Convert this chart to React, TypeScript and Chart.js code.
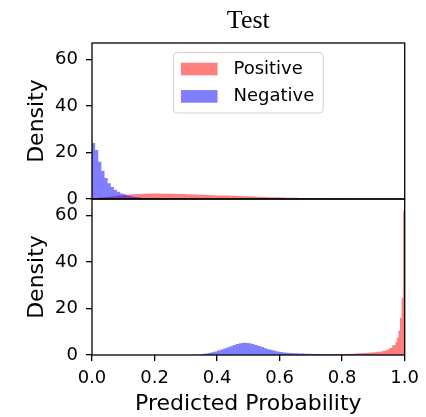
import React, { useEffect, useRef } from 'react';
import { Chart, registerables } from 'chart.js';

Chart.register(...registerables);

const chartTitle = 'Test';
const seriesNames = ['Positive', 'Negative'];
const xLabel = 'Predicted Probability';
const yLabel = 'Density';
const xTicks = [0, 0.2, 0.4, 0.6, 0.8, 1.0];
const yTicks = [0, 20, 40, 60];
const yMax = 67;

// ---- top subplot ----
const posTopStart = 0;
const posTopBin = 0.02;
const posTopValues = [
  0.35, 0.6, 0.9, 1.2, 1.5, 1.8, 2.0, 2.2, 2.3, 2.4,
  2.4, 2.3, 2.25, 2.2, 2.1, 2.0, 1.9, 1.8, 1.7, 1.6,
  1.5, 1.45, 1.35, 1.25, 1.15, 1.05, 0.95, 0.85, 0.78, 0.7,
  0.62, 0.55, 0.5, 0.45, 0.4, 0.35, 0.3, 0.27, 0.24, 0.21,
  0.18, 0.16, 0.14, 0.12, 0.1, 0.09, 0.08, 0.07, 0.06, 0.05,
];
const negTopStart = 0;
const negTopBin = 0.01;
const negTopValues = [
  24, 21, 16, 12, 9, 6.8, 5.2, 4, 3.1, 2.4,
  1.9, 1.5, 1.2, 0.95, 0.75, 0.6, 0.48, 0.38, 0.3, 0.24,
  0.19, 0.15, 0.12, 0.1, 0.08, 0.06, 0.05, 0.04, 0.03, 0.02,
];

// ---- bottom subplot ----
const posBotCoarseStart = 0.6;
const posBotCoarseBin = 0.01;
const posBotCoarseValues = [
  0.05, 0.06, 0.07, 0.08, 0.09, 0.1, 0.11, 0.12, 0.13, 0.14,
  0.15, 0.17, 0.19, 0.21, 0.23, 0.25, 0.28, 0.31, 0.34, 0.37,
  0.4, 0.45, 0.5, 0.56, 0.62, 0.7, 0.8, 0.9, 1.0, 1.1,
  1.2, 1.35, 1.5, 1.8, 2.3, 3.0, 4.2,
];
const posBotFineStart = 0.97;
const posBotFineBin = 0.005;
const posBotFineValues = [5.5, 7.5, 10.5, 16, 24.5, 62];

const negBotStart = 0.3;
const negBotBin = 0.01;
const negBotValues = [
  0.02, 0.05, 0.08, 0.15, 0.25, 0.4, 0.6, 0.85, 1.15, 1.5,
  1.9, 2.35, 2.8, 3.3, 3.8, 4.3, 4.7, 5.0, 5.3, 5.2,
  5.0, 4.7, 4.3, 3.9, 3.4, 2.9, 2.5, 2.1, 1.8, 1.5,
  1.3, 1.1, 1.0, 0.9, 0.8, 0.72, 0.66, 0.6, 0.55, 0.5,
  0.47, 0.44, 0.41, 0.39, 0.37, 0.35, 0.33, 0.31, 0.3, 0.28,
  0.27, 0.26, 0.25, 0.24, 0.23, 0.22, 0.21, 0.2, 0.19, 0.18,
  0.17, 0.16, 0.15, 0.14, 0.12, 0.1, 0.08, 0.06, 0.04, 0.02,
];

const posColor = 'rgba(255,0,0,0.5)';
const negColor = 'rgba(0,0,255,0.5)';
const FONT = '"DejaVu Sans", sans-serif';

type Seg = [number, number, number[]];
function histPoints(segs: Seg[]) {
  const pts: { x: number; y: number }[] = [];
  let end = 0;
  let last = 0;
  segs.forEach(([start, bin, vals]) => {
    vals.forEach((v, i) => pts.push({ x: start + i * bin, y: v }));
    end = start + vals.length * bin;
    last = vals[vals.length - 1];
  });
  pts.push({ x: end, y: last });
  return pts;
}

const spinesPlugin = {
  id: 'spines',
  afterDatasetsDraw(chart: any) {
    const { ctx, chartArea } = chart;
    ctx.save();
    ctx.strokeStyle = '#000';
    ctx.lineWidth = 1.3;
    ['yTop', 'yBot'].forEach((id) => {
      const s = chart.scales[id];
      ctx.strokeRect(chartArea.left, s.top, chartArea.right - chartArea.left, s.bottom - s.top);
    });
    ctx.restore();
  },
};

const titleLegendPlugin = {
  id: 'titleLegend',
  afterDraw(chart: any) {
    const { ctx, chartArea } = chart;
    const cx = (chartArea.left + chartArea.right) / 2;
    ctx.save();
    // title
    ctx.fillStyle = '#000';
    ctx.font = '26px "Liberation Serif", "Times New Roman", serif';
    ctx.textAlign = 'center';
    ctx.textBaseline = 'alphabetic';
    ctx.fillText(chartTitle, cx, chartArea.top - 15.5);

    // legend in top subplot
    const top = chart.scales.yTop.top;
    ctx.font = '18px ' + FONT;
    const textW = Math.max(...seriesNames.map((n) => ctx.measureText(n).width));
    const boxW = 60 + textW + 9;
    const boxH = 60.5;
    const bx = cx - boxW / 2;
    const by = top + 9.5;
    ctx.beginPath();
    const r = 4;
    ctx.moveTo(bx + r, by);
    ctx.arcTo(bx + boxW, by, bx + boxW, by + boxH, r);
    ctx.arcTo(bx + boxW, by + boxH, bx, by + boxH, r);
    ctx.arcTo(bx, by + boxH, bx, by, r);
    ctx.arcTo(bx, by, bx + boxW, by, r);
    ctx.closePath();
    ctx.fillStyle = 'rgba(255,255,255,0.8)';
    ctx.fill();
    ctx.strokeStyle = 'rgba(204,204,204,0.9)';
    ctx.lineWidth = 1;
    ctx.stroke();
    const colors = [posColor, negColor];
    seriesNames.forEach((name, i) => {
      const cy = by + 16.5 + i * 27.4;
      ctx.fillStyle = colors[i];
      ctx.fillRect(bx + 7.5, cy - 6.3, 36.6, 12.6);
      ctx.fillStyle = '#000';
      ctx.textAlign = 'left';
      ctx.textBaseline = 'middle';
      ctx.fillText(name, bx + 60, cy);
    });
    ctx.restore();
  },
};

function yAxis(stackWeight: number) {
  return {
    type: 'linear' as const,
    position: 'left' as const,
    stack: 'subplots',
    stackWeight,
    min: 0,
    max: yMax,
    afterBuildTicks: (scale: any) => {
      scale.ticks = yTicks.map((v) => ({ value: v }));
    },
    afterFit: (scale: any) => {
      scale.width = 92;
    },
    grid: { drawOnChartArea: false, drawTicks: true, tickLength: 6, color: '#000', lineWidth: 1.3 },
    border: { display: false },
    ticks: { color: '#000', font: { family: FONT, size: 18 }, padding: 8 },
    title: {
      display: true,
      text: yLabel,
      color: '#000',
      font: { family: FONT, size: 22 },
      padding: { top: 24, bottom: 0 },
    },
  };
}

export default function App() {
  const ref = useRef<HTMLCanvasElement>(null);
  useEffect(() => {
    if (!ref.current) return;
    const common = {
      borderColor: 'transparent',
      borderWidth: 0,
      pointRadius: 0,
      stepped: true,
      fill: 'origin',
    };
    const chart = new Chart(ref.current, {
      type: 'line',
      data: {
        datasets: [
          {
            ...common,
            label: seriesNames[0],
            data: histPoints([[posTopStart, posTopBin, posTopValues]]),
            yAxisID: 'yTop',
            order: 1,
            backgroundColor: posColor,
          },
          {
            ...common,
            label: seriesNames[1],
            data: histPoints([[negTopStart, negTopBin, negTopValues]]),
            yAxisID: 'yTop',
            order: 0,
            backgroundColor: negColor,
          },
          {
            ...common,
            label: seriesNames[0],
            data: histPoints([
              [posBotCoarseStart, posBotCoarseBin, posBotCoarseValues],
              [posBotFineStart, posBotFineBin, posBotFineValues],
            ]),
            yAxisID: 'yBot',
            order: 1,
            backgroundColor: posColor,
          },
          {
            ...common,
            label: seriesNames[1],
            data: histPoints([[negBotStart, negBotBin, negBotValues]]),
            yAxisID: 'yBot',
            order: 0,
            backgroundColor: negColor,
          },
        ] as any,
      },
      options: {
        animation: false,
        responsive: false,
        devicePixelRatio: 1,
        parsing: false as any,
        layout: { padding: { top: 43, right: 20, left: 0, bottom: 0 } },
        plugins: {
          legend: { display: false },
          tooltip: { enabled: false },
          title: { display: false },
        },
        scales: {
          x: {
            type: 'linear',
            position: 'bottom',
            min: 0,
            max: 1,
            afterBuildTicks: (scale: any) => {
              scale.ticks = xTicks.map((v) => ({ value: v }));
            },
            afterFit: (scale: any) => {
              scale.height = 62;
            },
            grid: { drawOnChartArea: false, drawTicks: true, tickLength: 6, color: '#000', lineWidth: 1.3 },
            border: { display: false },
            ticks: {
              color: '#000',
              font: { family: FONT, size: 18 },
              padding: 7,
              maxRotation: 0,
              autoSkip: false,
              callback: (v: any) => Number(v).toFixed(1),
            },
            title: {
              display: true,
              text: xLabel,
              color: '#000',
              font: { family: FONT, size: 22 },
              padding: { top: 0, bottom: 0 },
            },
          },
          yBot: yAxis(1),
          yTop: yAxis(1),
        } as any,
      },
      plugins: [spinesPlugin, titleLegendPlugin],
    });
    return () => chart.destroy();
  }, []);
  return (
    <div style={{ position: 'fixed', left: 0, top: 0, width: 426, height: 417, background: '#fff' }}>
      <canvas ref={ref} width={426} height={417} />
    </div>
  );
}
